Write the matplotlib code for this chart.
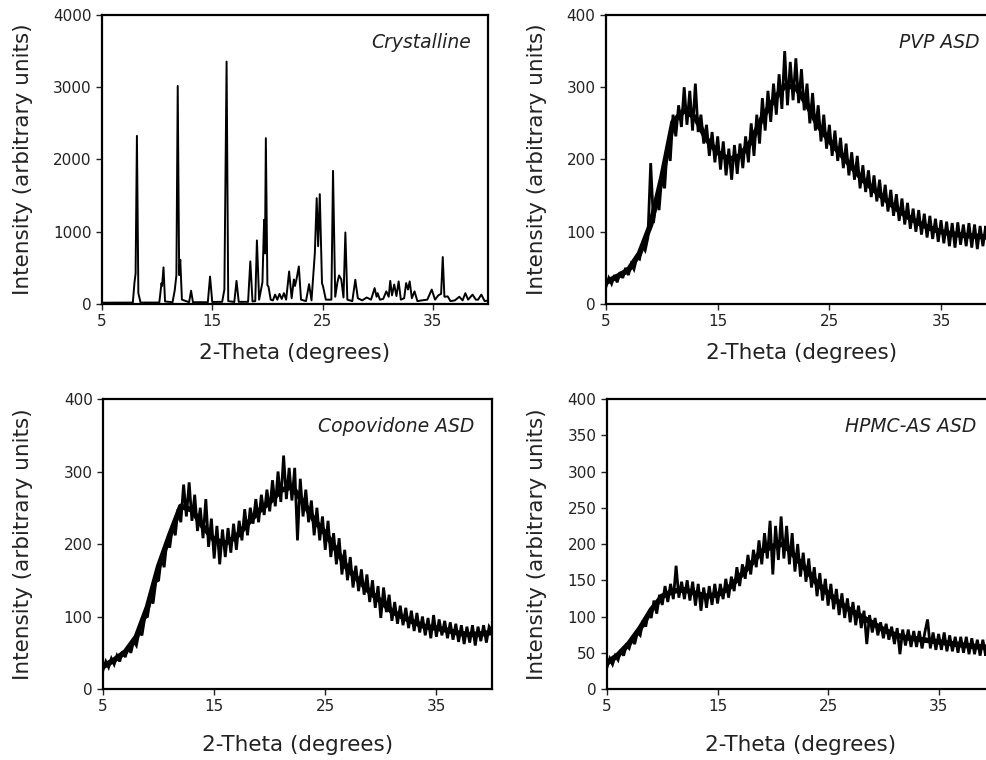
import numpy as np
import matplotlib.pyplot as plt

# сетка 2-theta для аморфных образцов, шаг 0.25 градуса
theta_grid = np.linspace(5, 40, 141)
# грубая сетка для середины шумовой полосы, шаг 1 градус
theta_core = np.arange(5, 41)

# кристаллический образец: точки
cryst_x = [5.0, 7.8, 7.95, 8.05, 8.17, 8.3, 8.5,
           10.2, 10.4, 10.45, 10.58, 10.72,
           11.4, 11.6, 11.75, 11.87, 12.0, 12.1, 12.25,
           12.9, 13.08, 13.25,
           14.6, 14.8, 15.0,
           15.9, 16.1, 16.3, 16.45,
           17.0, 17.2, 17.4,
           18.25, 18.45, 18.65,
           18.9, 19.05, 19.25,
           19.55, 19.7, 19.78, 19.86, 20.0, 20.1, 20.3,
           20.5, 20.7, 20.9, 21.1, 21.3, 21.5, 21.7,
           21.97, 22.2, 22.4, 22.5, 22.65, 22.85, 23.05,
           23.5, 23.78, 24.0,
           24.3, 24.47, 24.6, 24.75, 24.95, 25.05, 25.3,
           25.8, 25.95, 26.15, 26.35, 26.5, 26.7, 26.9, 27.07, 27.25,
           27.7, 27.97, 28.2, 28.6, 29.0, 29.4, 29.72, 29.9, 30.0, 30.2,
           30.5, 30.78, 31.0, 31.14, 31.3, 31.5, 31.7, 31.9, 32.1,
           32.4, 32.58, 32.75, 32.9, 33.1, 33.34, 33.6,
           34.0, 34.5, 34.9, 35.2, 35.5, 35.75, 35.9, 36.05,
           36.35, 36.6, 37.0, 37.4, 37.7, 37.95, 38.2, 38.6, 38.9, 39.1, 39.4, 39.7, 40.0]
cryst_y = [18, 20, 300, 420, 2327, 150, 20,
           20, 290, 250, 507, 35,
           25, 190, 400, 3018, 400, 613, 60,
           25, 184, 25,
           25, 380, 28,
           30, 200, 3355, 40,
           28, 320, 30,
           30, 590, 35,
           40, 880, 60,
           300, 1165, 700, 2295, 260, 240, 60,
           50, 130, 60, 140, 70, 150, 60,
           450, 80, 340, 250, 350, 520, 60,
           40, 275, 50,
           700, 1465, 800, 1520, 290, 240, 60,
           60, 1843, 100, 300, 396, 340, 90, 990, 60,
           40, 336, 80, 50, 90, 60, 220, 100, 150, 60,
           70, 175, 100, 320, 120, 270, 110, 313, 60,
           80, 290, 200, 313, 80, 175, 40,
           50, 60, 200, 60, 120, 140, 650, 100,
           105, 40, 50, 100, 50, 150, 60, 130, 60, 60, 130, 40, 50]

# PVP ASD
pvp_y = [24, 36, 28, 40,
         30, 44, 36, 50,
         40, 55, 48, 64,
         62, 80, 74, 92,
         195, 112, 145, 130,
         178, 160, 222, 198,
         262, 232, 275, 245,
         300, 248, 295, 240,
         305, 238, 262, 222,
         248, 205, 238, 196,
         232, 186, 225, 178,
         215, 172, 220, 180,
         222, 188, 232, 196,
         250, 205, 262, 222,
         285, 240, 295, 252,
         305, 262, 318, 270,
         350, 275, 335, 282,
         340, 278, 325, 268,
         305, 250, 292, 240,
         275, 225, 262, 215,
         248, 205, 240, 198,
         230, 188, 222, 178,
         210, 172, 205, 160,
         192, 155, 185, 148,
         178, 142, 172, 135,
         165, 128, 158, 122,
         152, 115, 146, 110,
         140, 104, 132, 100,
         130, 96, 125, 92,
         122, 90, 118, 86,
         116, 84, 114, 80,
         112, 78, 113, 82,
         110, 80, 112, 78,
         110, 76, 108, 80,
         108, 78, 106, 80,
         92]
pvp_core = [30, 38, 47, 70, 110, 175, 252, 268, 258, 228, 210, 200, 205, 225, 258, 282, 302, 300,
            276, 247, 226, 208, 190, 172, 158, 145, 132, 121, 112, 105, 100, 97, 95, 94, 93, 92]

# Copovidone ASD
copov_y = [26, 38, 30, 42,
           34, 46, 38, 52,
           44, 58, 50, 66,
           60, 80, 74, 98,
           100, 125, 118, 148,
           150, 182, 168, 205,
           195, 225, 212, 248,
           230, 282, 238, 285,
           232, 268, 218, 250,
           208, 262, 196, 235,
           180, 225, 172, 220,
           182, 222, 188, 228,
           192, 232, 205, 248,
           212, 250, 228, 262,
           230, 268, 240, 275,
           245, 288, 252, 300,
           258, 322, 262, 305,
           260, 305, 205, 290,
           238, 275, 230, 260,
           212, 250, 205, 238,
           192, 232, 182, 215,
           172, 208, 158, 192,
           150, 182, 140, 170,
           135, 165, 130, 158,
           120, 150, 112, 142,
           98, 140, 106, 130,
           94, 120, 90, 115,
           88, 112, 84, 108,
           80, 105, 78, 100,
           74, 98, 70, 102,
           72, 96, 74, 94,
           70, 92, 68, 90,
           65, 88, 62, 86,
           64, 88, 60, 86,
           66, 88, 64, 86,
           80]
copov_core = [31, 40, 51, 72, 113, 169, 212, 252, 247, 224, 206, 201, 210, 228, 245, 258, 274, 279,
              258, 233, 215, 192, 166, 150, 134, 121, 107, 99, 92, 86, 84, 81, 77, 75, 76, 78]

# HPMC-AS ASD
hpmc_y = [30, 42, 34, 46,
          40, 54, 46, 60,
          56, 70, 62, 78,
          74, 94, 86, 106,
          98, 122, 104, 130,
          116, 142, 120, 145,
          124, 170, 126, 148,
          124, 150, 122, 148,
          115, 145, 108, 140,
          112, 142, 116, 145,
          118, 145, 124, 152,
          126, 155, 135, 168,
          142, 172, 152, 185,
          158, 192, 168, 205,
          172, 215, 180, 232,
          158, 225, 178, 238,
          180, 225, 172, 215,
          162, 200, 155, 188,
          148, 180, 140, 168,
          128, 160, 122, 152,
          115, 145, 110, 138,
          102, 132, 98, 125,
          92, 120, 88, 115,
          84, 108, 62, 102,
          78, 98, 74, 92,
          70, 90, 68, 86,
          62, 84, 48, 82,
          60, 82, 58, 80,
          58, 80, 56, 78,
          96, 56, 78, 54,
          76, 54, 78, 52,
          74, 52, 72, 50,
          72, 50, 72, 48,
          70, 48, 68, 46,
          68, 46, 68, 48,
          56]
hpmc_core = [36, 47, 63, 84, 109, 128, 135, 137, 132, 128, 130, 139, 155, 172, 190, 197, 200, 183,
             165, 146, 132, 119, 109, 100, 91, 82, 75, 71, 69, 67, 65, 63, 61, 59, 58, 57]

fig = plt.figure(figsize=(9.87, 7.6), dpi=100)

# [left, bottom, width, height], правые графики обрезаны краем картинки
panels = [
    ([0.1033, 0.600, 0.3911, 0.3803], cryst_x, cryst_y, None, 4000, 1000, 'Crystalline', -0.179, 10),
    ([0.6140, 0.600, 0.3960, 0.3803], theta_grid, pvp_y, pvp_core, 400, 100, 'PVP ASD', -0.151, 10),
    ([0.1044, 0.0934, 0.3940, 0.3816], theta_grid, copov_y, copov_core, 400, 100, 'Copovidone ASD', -0.180, 15),
    ([0.6150, 0.0934, 0.3920, 0.3816], theta_grid, hpmc_y, hpmc_core, 400, 50, 'HPMC-AS ASD', -0.155, 15),
]

for pos, x, y, core, ymax, ystep, name, ylab_x, xpad in panels:
    ax = fig.add_axes(pos)
    if core is None:
        ax.plot(x, y, color='black', lw=1.4)
    else:
        # шумовая полоса: плотная середина + зубцы шума
        ax.plot(theta_core, core, color='black', lw=4, solid_joinstyle='round',
                solid_capstyle='butt')
        ax.plot(x, y, color='black', lw=2.0, solid_joinstyle='miter')
    ax.set_xlim(5, 40)
    ax.set_ylim(0, ymax)
    ax.set_xticks([5, 15, 25, 35])
    ax.set_yticks(np.arange(0, ymax + 1, ystep))
    for sp in ax.spines.values():
        sp.set_linewidth(1.6)
        sp.set_zorder(3)
    ax.tick_params(direction='out', length=4, width=1, labelsize=11, colors='#222222')
    ax.set_xlabel('2-Theta (degrees)', fontsize=15.5, labelpad=xpad, color='#222222')
    ax.set_ylabel('Intensity (arbitrary units)', fontsize=15.5, color='#222222')
    ax.yaxis.set_label_coords(ylab_x, 0.5)
    ax.text(0.955, 0.905, name, transform=ax.transAxes, ha='right', va='center',
            fontsize=13.5, style='italic', color='#222222')

fig.savefig('out.png', dpi=100)
